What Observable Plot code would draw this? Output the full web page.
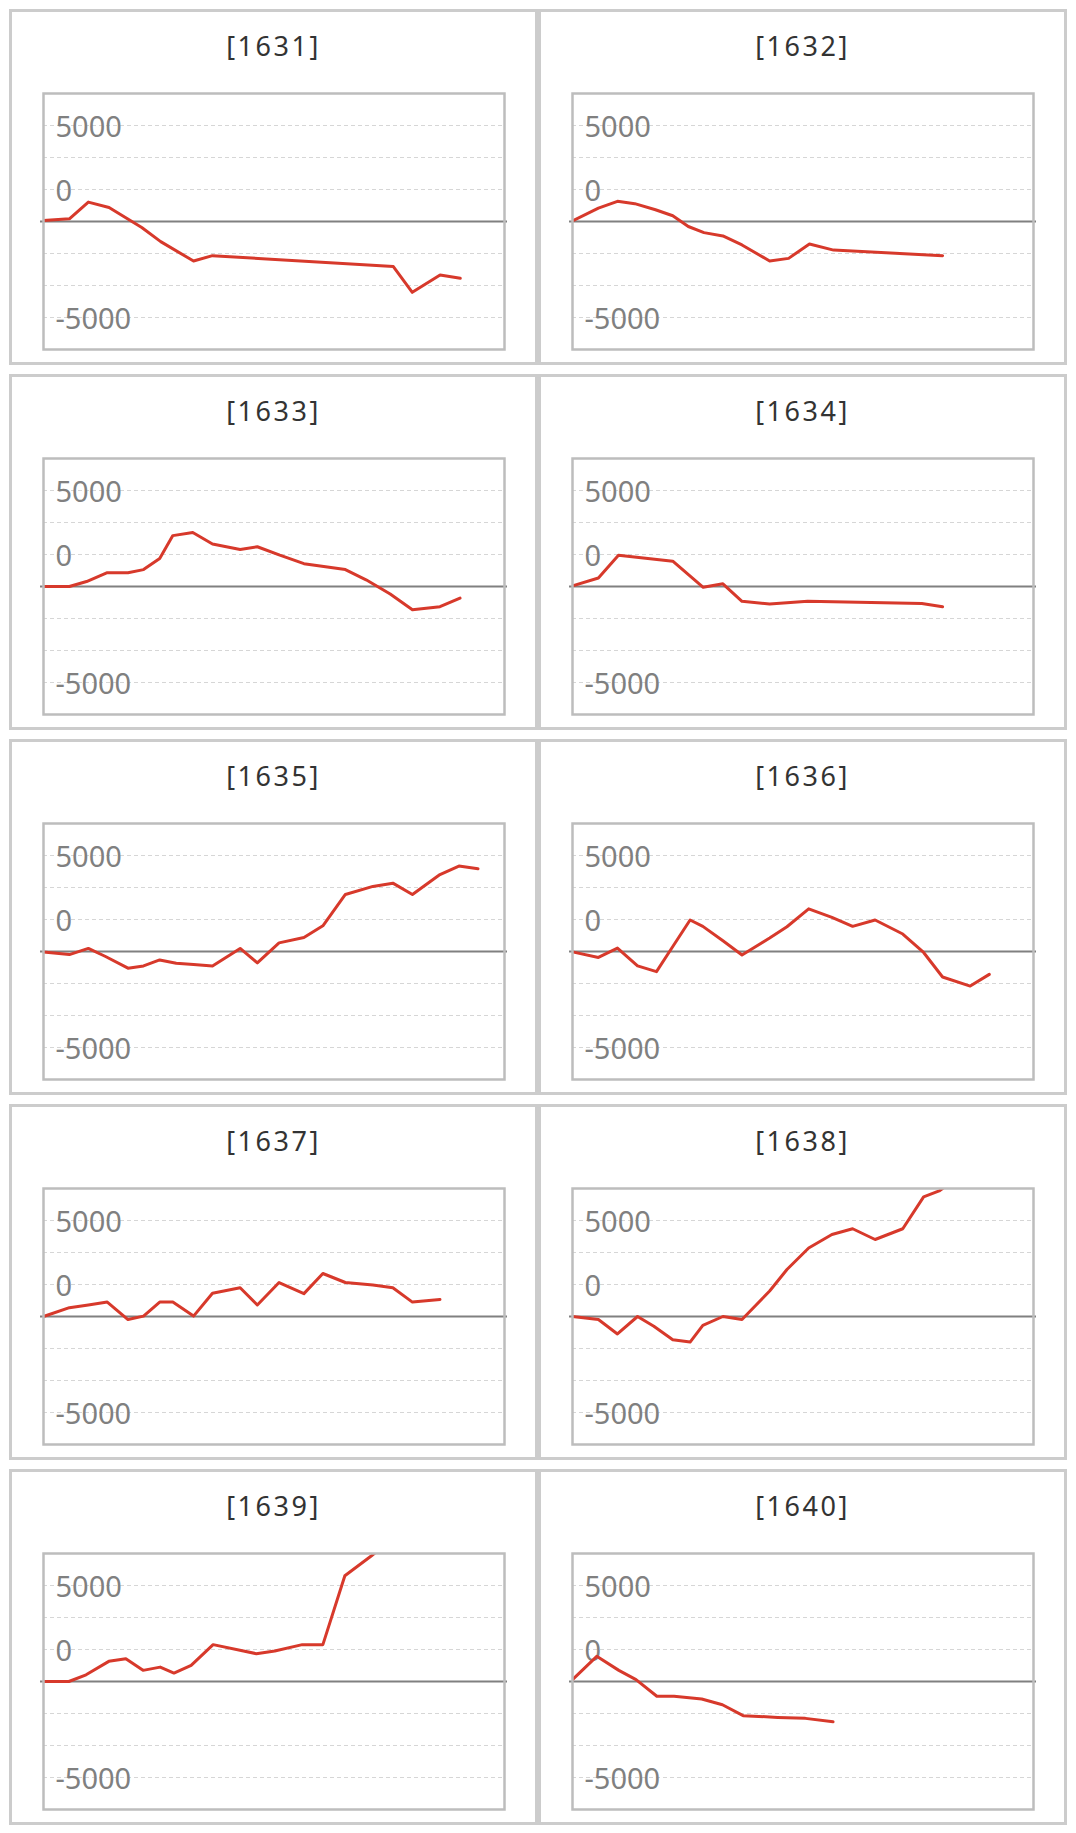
<!DOCTYPE html>
<html>
<head>
<meta charset="utf-8">
<script src="https://cdn.jsdelivr.net/npm/d3@7"></script>
<script src="https://cdn.jsdelivr.net/npm/@observablehq/plot@0.6"></script>
<style>
  html, body { margin: 0; padding: 0; background: #fff; }
  #grid {
    display: grid;
    grid-template-columns: 529px 529px;
    grid-auto-rows: 356px;
    column-gap: 0;
    row-gap: 9px;
    padding: 9px 0 0 9px;
  }
  .panel {
    position: relative;
    box-sizing: border-box;
    width: 529px;
    height: 356px;
    border: 3px solid #cccccc;
    background: #fff;
  }
  .title {
    position: absolute;
    left: 0; right: 0; top: 18px;
    text-align: center;
    font-family: "Noto Sans", "Open Sans", sans-serif;
    font-weight: 400;
    font-size: 27px;
    line-height: 32px;
    letter-spacing: 2.5px;
    color: #333;
  }
  .panel svg { position: absolute; left: 0; top: 0; }
</style>
</head>
<body>
<div id="grid"></div>
<script>
// ---- data (x = day of year, y = value) ----
const years = ["1631","1632","1633","1634","1635","1636","1637","1638","1639","1640"];

const days1631 = [0, 20.5, 35.5, 51.9, 77.8, 92.8, 118.8, 133.8, 277, 292, 314, 330];
const vals1631 = [50, 140, 1010, 730, -310, -1050, -2060, -1780, -2350, -3690, -2790, -2960];

const days1632 = [0, 20.5, 35.6, 49.3, 65.7, 79.4, 91.7, 104.1, 119.1, 134.2, 156.1, 171.1, 187.6, 206.7, 293];
const vals1632 = [30, 700, 1050, 930, 610, 300, -260, -580, -750, -1220, -2060, -1920, -1170, -1490, -1780];

const days1633 = [0, 20.5, 34.1, 50.5, 66.9, 79.2, 92, 102.4, 118.2, 133.8, 155.7, 169.3, 187.1, 206.2, 239, 255.4, 274.5, 292.1, 313.9, 329.8];
const vals1633 = [0, 0, 260, 720, 720, 880, 1460, 2650, 2810, 2210, 1930, 2070, 1630, 1190, 880, 350, -390, -1210, -1050, -600];

const days1634 = [0, 20.5, 36.4, 79.4, 103.5, 119.1, 134.2, 156.1, 186.2, 276.6, 293];
const vals1634 = [30, 440, 1630, 1320, -40, 140, -770, -910, -770, -880, -1050];

const days1635 = [0, 20.5, 35.5, 49.1, 66.9, 79.2, 92, 105.1, 118.8, 133.8, 155.7, 169.3, 186.5, 206.2, 221.2, 239, 260.8, 276.6, 292.1, 313.9, 328.9, 344];
const vals1635 = [-20, -160, 160, -260, -870, -750, -440, -610, -680, -750, 160, -590, 450, 730, 1340, 2970, 3390, 3560, 2970, 4010, 4450, 4310];

const days1636 = [0, 20.5, 35.6, 51.5, 66.5, 78, 93.1, 103.2, 119.1, 134.2, 156.1, 169.8, 187, 205.4, 221.8, 239.6, 261.5, 278, 293, 314.9, 330];
const vals1636 = [-20, -310, 180, -750, -1050, 120, 1640, 1310, 560, -180, 700, 1290, 2220, 1780, 1310, 1640, 910, -50, -1330, -1800, -1190];

const days1637 = [0, 20.5, 35.5, 50.5, 66.9, 79.2, 92, 102.4, 118.8, 133.8, 155.7, 169.3, 186.5, 206.2, 221.2, 239, 260.8, 276.6, 292.1, 313.9];
const vals1637 = [0, 460, 600, 750, -160, 20, 750, 750, 20, 1210, 1500, 600, 1770, 1190, 2240, 1770, 1640, 1500, 750, 890];

const days1638 = [0, 20.5, 35.6, 51.5, 64.4, 79.4, 93.1, 103.2, 119.1, 134.2, 156.1, 169.8, 187, 205.4, 221.8, 239.6, 261.5, 278, 290.3, 300];
const vals1638 = [0, -160, -910, 0, -510, -1210, -1330, -460, 0, -160, 1330, 2450, 3570, 4270, 4570, 4010, 4570, 6230, 6540, 7000];

const days1639 = [0, 20.1, 33.7, 51.7, 65.2, 78.8, 92.4, 103.3, 116.9, 134.3, 168.5, 183.1, 204.9, 221.2, 238.6, 259.2, 270];
const vals1639 = [0, 0, 350, 1050, 1190, 580, 750, 440, 840, 1920, 1450, 1590, 1920, 1920, 5510, 6520, 7100];

const days1640 = [0, 19.2, 36.7, 50.3, 66.8, 80.4, 102.3, 118.7, 135.1, 162.5, 184.4, 206.3];
const vals1640 = [100, 1310, 580, 100, -770, -770, -910, -1210, -1780, -1870, -1920, -2100];

const tickLabels = ["5000", "0", "-5000"];
const tickValues = [5000, 1666.7, -5000];
const gridValues = [5000, 3333.3, 1666.7, -1666.7, -3333.3, -5000];
const xDomain = [0, 365];
const yDomain = [-6666.7, 6666.7];

const seriesByYear = {
  "1631": [days1631, vals1631], "1632": [days1632, vals1632],
  "1633": [days1633, vals1633], "1634": [days1634, vals1634],
  "1635": [days1635, vals1635], "1636": [days1636, vals1636],
  "1637": [days1637, vals1637], "1638": [days1638, vals1638],
  "1639": [days1639, vals1639], "1640": [days1640, vals1640]
};

const grid = document.getElementById("grid");
for (const yr of years) {
  const [xs, ys] = seriesByYear[yr];
  const data = xs.map((d, i) => ({day: d, value: ys[i]}));
  const ticks = tickLabels.map((t, i) => ({label: t, value: tickValues[i]}));

  const panel = document.createElement("div");
  panel.className = "panel";
  const title = document.createElement("div");
  title.className = "title";
  title.textContent = `[${yr}]`;
  panel.appendChild(title);

  const chart = Plot.plot({
    width: 523,
    height: 350,
    marginLeft: 31,
    marginRight: 31,
    marginTop: 81,
    marginBottom: 13,
    style: {background: "transparent", fontFamily: "'Noto Sans', sans-serif", overflow: "visible"},
    x: {domain: xDomain, axis: null},
    y: {domain: yDomain, axis: null},
    marks: [
      Plot.ruleY(gridValues, {stroke: "#d6d6d6", strokeWidth: 1, strokeDasharray: "4,3"}),
      Plot.ruleY([0], {stroke: "#808080", strokeWidth: 2.2, insetLeft: -3, insetRight: -3}),
      Plot.text(ticks, {
        x: () => xDomain[0], y: "value", text: "label",
        textAnchor: "start", dx: 12, dy: 2,
        fontSize: 29, fill: "#808080", lineAnchor: "middle"
      }),
      Plot.line(data, {x: "day", y: "value", stroke: "#d7392b", strokeWidth: 3, clip: true}),
      Plot.frame({stroke: "#bdbdbd", strokeWidth: 2.5})
    ]
  });
  panel.appendChild(chart);
  grid.appendChild(panel);
}
</script>
</body>
</html>
